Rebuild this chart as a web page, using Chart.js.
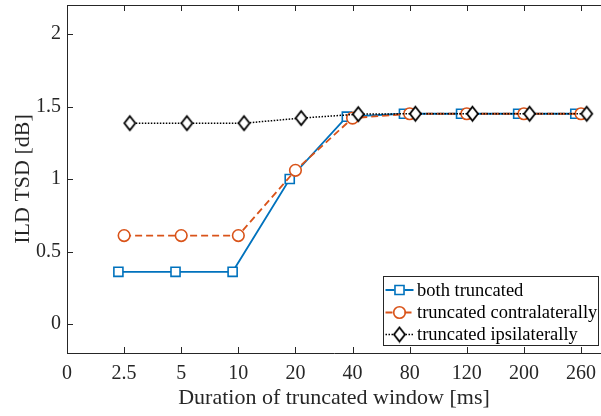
<!DOCTYPE html>
<html><head><meta charset="utf-8">
<script src="https://cdn.jsdelivr.net/npm/chart.js@4.4.1/dist/chart.umd.min.js"></script>
<style>html,body{margin:0;padding:0;background:#fff;} #wrap{width:601px;height:416px;position:relative;}</style>
</head><body><div id="wrap"><canvas id="c" width="601" height="416"></canvas></div>
<script>
// ---- data ----
const categories = ['2.5','5','10','20','40','80','120','200','260'];
const xTickLabels = ['0','2.5','5','10','20','40','80','120','200','260'];
const yTickValues = [0, 0.5, 1, 1.5, 2];
const yTickLabels = ['0','0.5','1','1.5','2'];
const bothTruncated   = [0.36, 0.36, 0.36, 1.00, 1.43, 1.45, 1.45, 1.45, 1.45];
const contraTruncated = [0.61, 0.61, 0.61, 1.06, 1.42, 1.45, 1.45, 1.45, 1.45];
const ipsiTruncated   = [1.385, 1.385, 1.385, 1.42, 1.447, 1.45, 1.45, 1.45, 1.45];
const seriesNames = ['both truncated', 'truncated contralaterally', 'truncated ipsilaterally'];

const FONT = "'Liberation Serif', 'Times New Roman', serif";
const AX = '#262626';
const BLUE = '#0072BD', ORANGE = '#D95319', BLACK = '#000000';

Chart.defaults.font.family = FONT;
Chart.defaults.color = AX;

function makeDiamond(hw, hh, lw, color) {
  const c = document.createElement('canvas');
  c.width = Math.ceil(2 * hw + lw * 2);
  c.height = Math.ceil(2 * hh + lw * 2);
  const g = c.getContext('2d');
  const cx = c.width / 2, cy = c.height / 2;
  g.strokeStyle = color; g.fillStyle = '#ffffff'; g.lineWidth = lw; g.lineJoin = 'miter';
  g.beginPath();
  g.moveTo(cx, cy - hh); g.lineTo(cx + hw, cy); g.lineTo(cx, cy + hh); g.lineTo(cx - hw, cy); g.closePath();
  g.fill();
  g.stroke();
  return c;
}
const diamond = makeDiamond(5.5, 7, 1.8, BLACK);

const toPts = (arr, off) => arr.map((v, i) => ({ x: i + 1 + off, y: v }));

const styles = [
  { color: BLUE, dash: [], width: 1.8, pointStyle: 'rect', radius: 6.4, off: -0.1, order: 3 },
  { color: ORANGE, dash: [7, 4], width: 1.8, pointStyle: 'circle', radius: 5.8, off: 0, order: 2 },
  { color: BLACK, dash: [1.5, 1.5], width: 1.5, pointStyle: diamond, radius: 7, off: 0.1, order: 1 }
];
const seriesData = [bothTruncated, contraTruncated, ipsiTruncated];

const datasets = seriesData.map((arr, k) => ({
  label: seriesNames[k],
  data: toPts(arr, styles[k].off),
  order: styles[k].order,
  borderColor: styles[k].color,
  backgroundColor: 'rgba(0,0,0,0)',
  borderWidth: styles[k].width,
  borderDash: styles[k].dash,
  pointStyle: styles[k].pointStyle,
  pointRadius: styles[k].radius,
  pointBorderWidth: 1.6,
  pointBorderColor: styles[k].color,
  pointBackgroundColor: '#ffffff',
  tension: 0,
  fill: false
}));

const decorPlugin = {
  id: 'decor',
  afterDraw(chart) {
    const ctx = chart.ctx;
    const a = chart.chartArea;
    const xs = chart.scales.x, ys = chart.scales.y;
    ctx.save();
    ctx.strokeStyle = AX; ctx.lineWidth = 1; ctx.setLineDash([]);
    ctx.beginPath();
    ctx.moveTo(a.left, Math.round(a.top) + 0.5); ctx.lineTo(a.right, Math.round(a.top) + 0.5);
    ctx.stroke();
    const TL = 6;
    ctx.beginPath();
    xs.ticks.forEach(t => {
      const px = Math.round(xs.getPixelForValue(t.value)) + 0.5;
      ctx.moveTo(px, a.bottom); ctx.lineTo(px, a.bottom - TL);
      ctx.moveTo(px, a.top); ctx.lineTo(px, a.top + TL);
    });
    ys.ticks.forEach(t => {
      const py = Math.round(ys.getPixelForValue(t.value)) + 0.5;
      ctx.moveTo(a.left, py); ctx.lineTo(a.left + TL, py);
    });
    ctx.stroke();

    // legend
    const L = 383.5, R = 598.5, T = 276.5, B = 345.5;
    ctx.fillStyle = '#ffffff';
    ctx.fillRect(L, T, R - L, B - T);
    ctx.strokeStyle = AX; ctx.lineWidth = 1;
    ctx.strokeRect(L, T, R - L, B - T);
    const rows = [290, 312.5, 334.5];
    ctx.font = '18.5px ' + FONT;
    ctx.textBaseline = 'middle';
    ctx.textAlign = 'left';
    rows.forEach((ry, k) => {
      const s = styles[k];
      const mx = 399.5;
      const gap = k === 2 ? 6 : 5;
      ctx.strokeStyle = s.color; ctx.lineWidth = s.width; ctx.setLineDash(s.dash);
      ctx.beginPath();
      ctx.moveTo(385.5, ry); ctx.lineTo(mx - gap, ry);
      ctx.moveTo(mx + gap, ry); ctx.lineTo(413.5, ry);
      ctx.stroke();
      ctx.setLineDash([]);
      ctx.strokeStyle = s.color; ctx.lineWidth = 1.6;
      if (s.pointStyle === 'rect') {
        const h = s.radius * Math.SQRT1_2;
        ctx.beginPath(); ctx.rect(mx - h, ry - h, 2 * h, 2 * h); ctx.stroke();
      } else if (s.pointStyle === 'circle') {
        ctx.beginPath(); ctx.arc(mx, ry, s.radius, 0, Math.PI * 2); ctx.stroke();
      } else {
        ctx.drawImage(s.pointStyle, mx - s.pointStyle.width / 2, ry - s.pointStyle.height / 2);
      }
      ctx.fillStyle = '#000';
      ctx.fillText(seriesNames[k], 417, ry + 1);
    });
    ctx.restore();
  }
};

new Chart(document.getElementById('c'), {
  type: 'line',
  data: { datasets },
  plugins: [decorPlugin],
  options: {
    responsive: false,
    animation: false,
    devicePixelRatio: 1,
    layout: { autoPadding: false, padding: { top: 5, left: 0, right: 0, bottom: 0 } },
    plugins: { legend: { display: false }, tooltip: { enabled: false } },
    scales: {
      x: {
        type: 'linear', min: 0, max: 9.35,
        afterBuildTicks: s => { s.ticks = xTickLabels.map((_, i) => ({ value: i })); },
        afterFit: s => { s.height = 63; s.paddingLeft = 0; s.paddingRight = 0; },
        ticks: {
          autoSkip: false, maxRotation: 0, padding: 9,
          color: AX, font: { family: FONT, size: 20 },
          callback: (v) => xTickLabels[Math.round(v)]
        },
        grid: { display: false, drawTicks: false, tickLength: 0 },
        border: { display: true, color: AX, width: 1 },
        title: {
          display: true, text: 'Duration of truncated window [ms]',
          color: AX, font: { family: FONT, size: 22 }, padding: { top: 0, bottom: 5 }
        }
      },
      y: {
        type: 'linear', min: -0.2, max: 2.2,
        afterBuildTicks: s => { s.ticks = yTickValues.map(v => ({ value: v })); },
        afterFit: s => { s.width = 67; s.paddingTop = 0; s.paddingBottom = 0; },
        ticks: {
          padding: 6, color: AX, font: { family: FONT, size: 20 },
          callback: (v) => { const i = yTickValues.indexOf(v); return i >= 0 ? yTickLabels[i] : ''; }
        },
        grid: { display: false, drawTicks: false, tickLength: 0 },
        border: { display: true, color: AX, width: 1 },
        title: {
          display: true, text: 'ILD TSD [dB]',
          color: AX, font: { family: FONT, size: 22 }, padding: { top: 10, bottom: 0 }
        }
      }
    }
  }
});
</script>
</body></html>
